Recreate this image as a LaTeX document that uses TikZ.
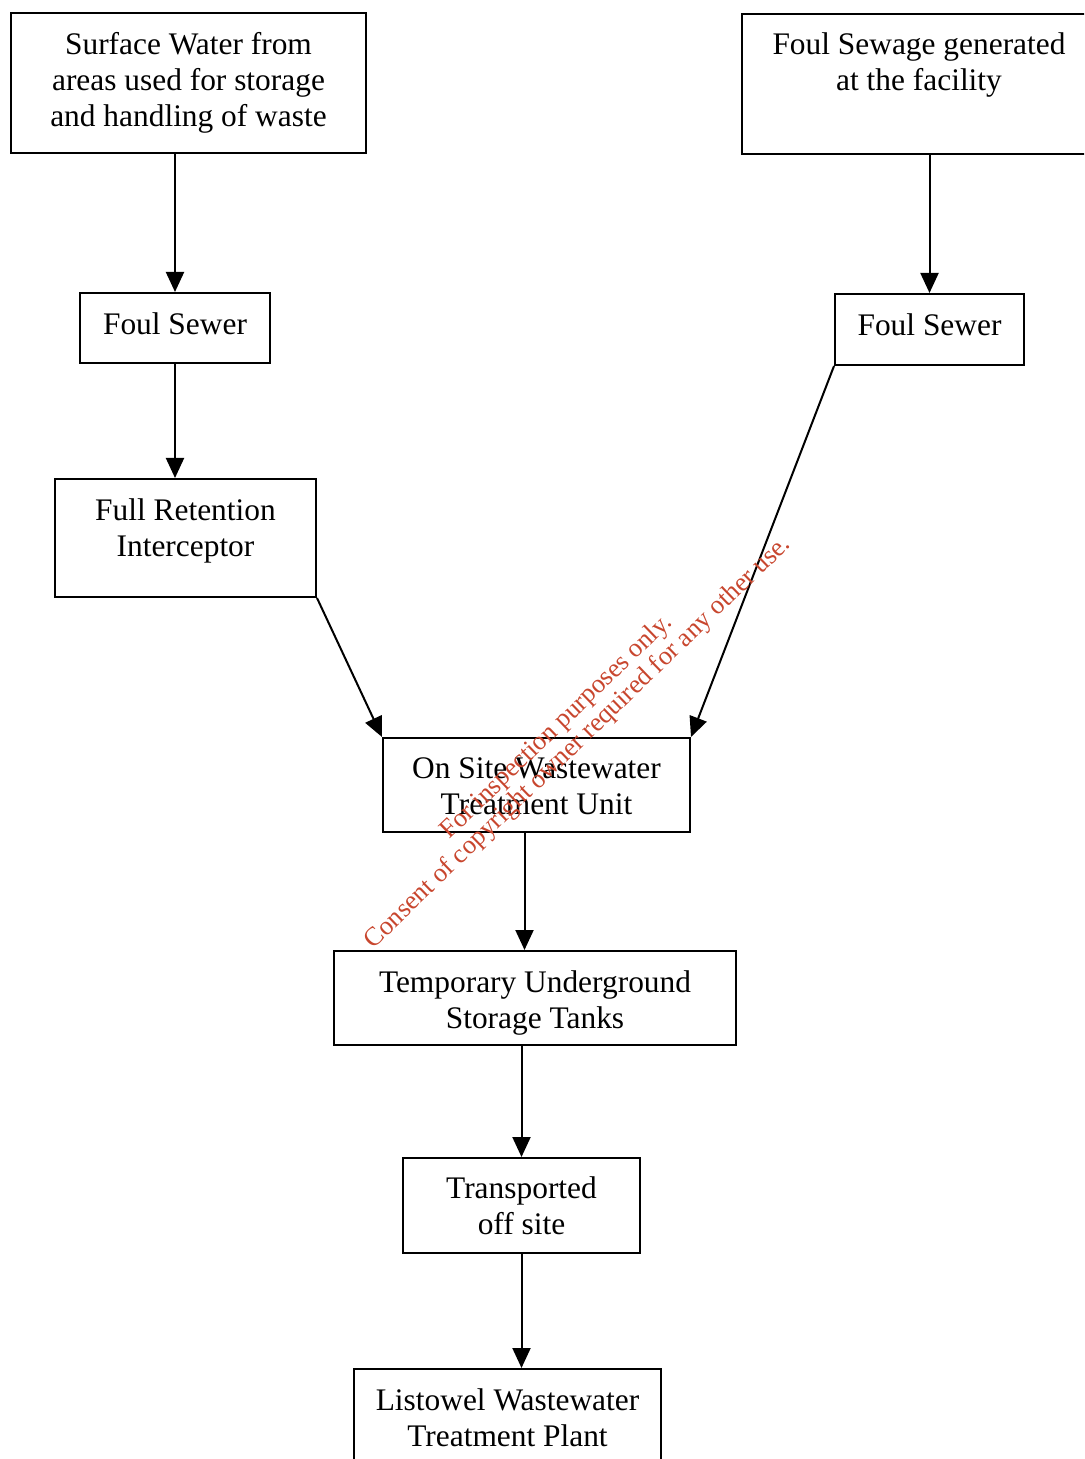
\documentclass[tikz,border=0pt]{standalone}
\usepackage{fontspec}
\setmainfont{Liberation Serif}
\usepackage{tikz}
\usetikzlibrary{positioning,arrows.meta,calc,fit}
\definecolor{stampred}{HTML}{C8462E}
\newcommand{\flowfont}{\fontsize{15.7}{18}\selectfont}

\begin{document}
\begin{tikzpicture}[x=0.5pt, y=-0.5pt,
    box/.style={draw, line width=1pt, inner sep=0pt},
    txt/.style={align=center, inner sep=0pt, font=\flowfont},
    flow/.style={-{Triangle[length=10pt,width=9pt]}, line width=1pt},
    stamp/.style={stampred, rotate=44, font=\fontsize{13.2}{15}\selectfont}]
    \clip (0,0) rectangle (1084,1459);
    % frames
    \node (surface) [box, fit={(11,13) (366,153)}] {};
    \node (sewage) [box, fit={(742,14) (1096,154)}] {};
    \node (sewerL) [box, fit={(80,293) (270,363)}] {};
    \node (sewerR) [box, fit={(835,294) (1024,365)}] {};
    \node (interceptor) [box, fit={(55,479) (316,597)}] {};
    \node (onsite) [box, fit={(383,738) (690,832)}] {};
    \node (tanks) [box, fit={(334,951) (736,1045)}] {};
    \node (transport) [box, fit={(403,1158) (640,1253)}] {};
    \node (plant) [box, fit={(354,1369) (661,1467)}] {};
    % wording
    \node (surfaceT) [txt] at (surface.center) {Surface Water from\\areas used for storage\\and handling of waste};
    \node (sewageT) [txt] at ([yshift=9.5pt]sewage.center) {Foul Sewage generated\\at the facility};
    \node (sewerLT) [txt] at ([yshift=2pt]sewerL.center) {Foul Sewer};
    \node (sewerRT) [txt] at ([yshift=2.5pt]sewerR.center) {Foul Sewer};
    \node (interceptorT) [txt] at ([yshift=3.5pt]interceptor.center) {Full Retention\\Interceptor};
    \node (onsiteT) [txt] at ([yshift=-0.75pt]onsite.center) {On Site Wastewater\\Treatment Unit};
    \node (tanksT) [txt] at ([yshift=-2.25pt]tanks.center) {Temporary Underground\\Storage Tanks};
    \node (transportT) [txt] at (transport.center) {Transported\\off site};
    \node (plantT) [txt] at (plant.center) {Listowel Wastewater\\Treatment Plant};
    % connectors
    \coordinate (drop) at ($(onsite.south)+(-12,0)$);
    \draw[flow] (sewerL.north |- surface.south) -- (sewerL.north);
    \draw[flow] (sewerL.south) -- (sewerL.south |- interceptor.north);
    \draw[flow] (interceptor.south east) -- (onsite.north west);
    \draw[flow] (sewerR.north |- sewage.south) -- (sewerR.north);
    \draw[flow] (sewerR.south west) -- (onsite.north east);
    \draw[flow] (drop) -- (drop |- tanks.north);
    \draw[flow] (transport.north |- tanks.south) -- (transport.north);
    \draw[flow] (transport.south) -- (transport.south |- plant.north);
    % watermark
    \node (note1) [stamp] at (557,727) {For inspection purposes only.};
    \node (note2) [stamp] at (578,743) {Consent of copyright owner required for any other use.};
\end{tikzpicture}
\end{document}
